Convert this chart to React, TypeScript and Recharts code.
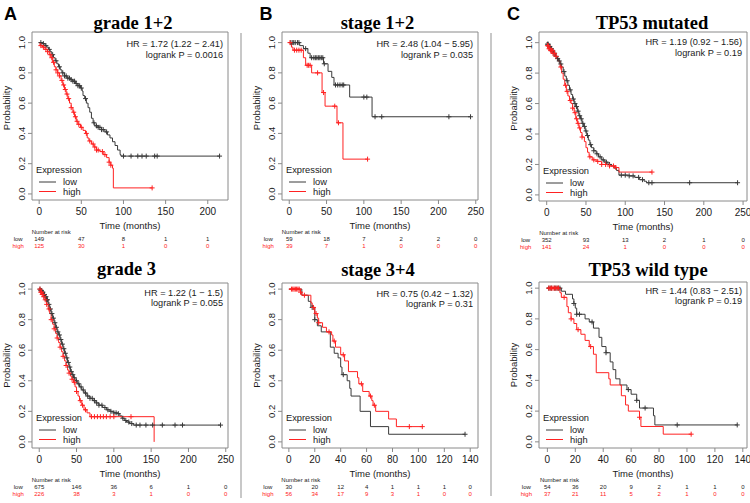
import React from 'react';
import { ComposedChart, Line, Scatter, XAxis, YAxis, ReferenceArea } from 'recharts';

type Pt = [number, number];

// ---------- data ----------
const ticks200 = [0, 50, 100, 150, 200];
const ticks250 = [0, 50, 100, 150, 200, 250];
const ticks140 = [0, 20, 40, 60, 80, 100, 120, 140];
const yTicks = [0, 0.2, 0.4, 0.6, 0.8, 1];

const titles = ['grade 1+2', 'stage 1+2', 'TP53 mutated', 'grade 3', 'stage 3+4', 'TP53 wild type'];
const hrText = [
  'HR = 1.72 (1.22 − 2.41)',
  'HR = 2.48 (1.04 − 5.95)',
  'HR = 1.19 (0.92 − 1.56)',
  'HR = 1.22 (1 − 1.5)',
  'HR = 0.75 (0.42 − 1.32)',
  'HR = 1.44 (0.83 − 2.51)',
];
const pText = ['logrank P = 0.0016', 'logrank P = 0.035', 'logrank P = 0.19', 'logrank P = 0.055', 'logrank P = 0.31', 'logrank P = 0.19'];

// grade 1+2
const g12Low: Pt[] = [[0, 1], [4, 0.993], [7, 0.98], [9, 0.97], [11, 0.955], [13, 0.94], [15, 0.92], [17, 0.9], [19, 0.88], [21, 0.86], [23, 0.84], [25, 0.82], [27, 0.8], [30, 0.78], [33, 0.765], [37, 0.755], [40, 0.745], [43, 0.73], [46, 0.715], [49, 0.7], [51, 0.68], [52, 0.65], [54, 0.63], [56, 0.6], [58, 0.57], [60, 0.54], [62, 0.5], [64, 0.47], [66, 0.45], [70, 0.44], [74, 0.425], [78, 0.41], [81, 0.39], [84, 0.37], [87, 0.345], [90, 0.32], [93, 0.29], [96, 0.26], [97, 0.25], [214, 0.25]];
const g12LowCens = [2, 5, 8, 12, 16, 20, 24, 28, 30, 32, 34, 36, 38, 40, 42, 44, 46, 48, 50, 55, 65, 68, 70, 72, 74, 76, 80, 100, 109, 117, 122, 127, 137, 140, 214];
const g12High: Pt[] = [[0, 1], [1, 0.98], [4, 0.97], [7, 0.955], [10, 0.94], [12, 0.92], [14, 0.9], [16, 0.87], [18, 0.84], [20, 0.82], [22, 0.8], [24, 0.78], [26, 0.75], [28, 0.72], [30, 0.69], [32, 0.66], [34, 0.63], [36, 0.6], [38, 0.57], [40, 0.54], [42, 0.51], [44, 0.48], [46, 0.46], [49, 0.44], [52, 0.42], [55, 0.4], [57, 0.37], [59, 0.35], [62, 0.33], [65, 0.31], [68, 0.29], [72, 0.28], [76, 0.26], [80, 0.24], [83, 0.21], [85, 0.19], [87, 0.17], [88, 0.04], [134, 0.04]];
const g12HighCens = [2, 5, 8, 10, 13, 15, 17, 20, 22, 24, 27, 29, 31, 33, 35, 38, 41, 43, 45, 47, 50, 56, 60, 64, 66, 68, 70, 75, 78, 83, 85, 134];
const g12RiskLow = [149, 47, 8, 1, 1];
const g12RiskHigh = [125, 30, 1, 0, 0];

// stage 1+2
const s12Low: Pt[] = [[0, 1], [14, 0.98], [19, 0.96], [25, 0.93], [28, 0.9], [46, 0.86], [52, 0.81], [57, 0.77], [60, 0.72], [81, 0.64], [111, 0.51], [243, 0.51]];
const s12LowCens = [2, 4, 6, 8, 11, 13, 22, 30, 33, 35, 37, 39, 41, 43, 45, 47, 62, 65, 68, 71, 73, 100, 104, 115, 124, 214, 243];
const s12High: Pt[] = [[0, 1], [3, 0.97], [5, 0.95], [19, 0.9], [22, 0.85], [30, 0.8], [44, 0.67], [48, 0.58], [64, 0.47], [72, 0.23], [105, 0.23]];
const s12HighCens = [1, 7, 10, 13, 16, 24, 26, 28, 38, 46, 61, 66, 105];
const s12RiskLow = [59, 18, 7, 2, 2, 0];
const s12RiskHigh = [39, 7, 1, 0, 0, 0];

// TP53 mutated
const tpmLow: Pt[] = [[0, 1], [1, 0.99], [3, 0.975], [5, 0.96], [7, 0.945], [9, 0.93], [11, 0.91], [13, 0.895], [15, 0.88], [17, 0.86], [19, 0.84], [21, 0.81], [23, 0.78], [25, 0.75], [27, 0.72], [29, 0.69], [31, 0.66], [33, 0.63], [35, 0.6], [37, 0.58], [39, 0.55], [41, 0.52], [43, 0.5], [45, 0.47], [47, 0.45], [49, 0.42], [51, 0.39], [53, 0.36], [55, 0.33], [57, 0.31], [60, 0.29], [63, 0.27], [66, 0.25], [70, 0.23], [74, 0.215], [78, 0.2], [82, 0.19], [86, 0.175], [89, 0.16], [92, 0.13], [105, 0.125], [112, 0.115], [118, 0.1], [124, 0.09], [127, 0.08], [243, 0.08]];
const tpmLowCens = [1, 2, 3, 4, 5, 6, 7, 8, 9, 10, 12, 14, 16, 18, 22, 26, 30, 34, 36, 38, 40, 42, 44, 46, 48, 50, 52, 56, 60, 64, 68, 72, 76, 80, 95, 100, 105, 110, 117, 122, 130, 134, 182, 243];
const tpmHigh: Pt[] = [[0, 1], [1, 0.98], [3, 0.96], [5, 0.95], [8, 0.93], [11, 0.91], [14, 0.88], [17, 0.84], [19, 0.8], [21, 0.76], [23, 0.72], [25, 0.68], [27, 0.65], [29, 0.62], [31, 0.6], [33, 0.57], [35, 0.54], [37, 0.5], [39, 0.47], [41, 0.44], [43, 0.41], [45, 0.38], [48, 0.35], [50, 0.31], [52, 0.28], [54, 0.25], [58, 0.23], [64, 0.22], [70, 0.2], [80, 0.19], [88, 0.18], [92, 0.15], [134, 0.15]];
const tpmHighCens = [1, 2, 3, 4, 5, 6, 7, 8, 10, 12, 18, 24, 26, 30, 33, 36, 38, 40, 42, 45, 55, 60, 65, 70, 75, 80, 85, 88, 134];
const tpmRiskLow = [352, 93, 13, 2, 1, 0];
const tpmRiskHigh = [141, 24, 1, 0, 0, 0];

// grade 3
const g3Low: Pt[] = [[0, 1], [2, 0.99], [4, 0.98], [6, 0.965], [8, 0.95], [10, 0.93], [12, 0.9], [14, 0.87], [16, 0.84], [18, 0.81], [20, 0.78], [22, 0.75], [24, 0.72], [26, 0.7], [28, 0.67], [30, 0.64], [32, 0.61], [34, 0.58], [36, 0.55], [38, 0.52], [40, 0.49], [42, 0.46], [44, 0.44], [46, 0.42], [48, 0.4], [51, 0.38], [54, 0.36], [57, 0.34], [60, 0.32], [64, 0.3], [68, 0.285], [72, 0.27], [76, 0.255], [80, 0.24], [85, 0.225], [90, 0.21], [95, 0.2], [100, 0.19], [105, 0.185], [108, 0.17], [111, 0.155], [114, 0.14], [117, 0.13], [121, 0.12], [126, 0.11], [243, 0.11]];
const g3LowCens = [1, 2, 3, 4, 5, 6, 7, 8, 9, 10, 11, 13, 15, 17, 19, 21, 23, 25, 27, 29, 31, 33, 35, 37, 39, 41, 43, 45, 47, 50, 53, 56, 59, 62, 65, 68, 71, 74, 77, 80, 84, 88, 92, 96, 100, 103, 106, 112, 116, 120, 124, 130, 135, 143, 152, 165, 182, 192, 243];
const g3High: Pt[] = [[0, 1], [2, 0.98], [4, 0.965], [6, 0.95], [8, 0.93], [10, 0.9], [12, 0.87], [14, 0.84], [16, 0.8], [18, 0.77], [20, 0.74], [22, 0.71], [24, 0.68], [26, 0.65], [28, 0.62], [30, 0.59], [32, 0.56], [34, 0.53], [36, 0.5], [38, 0.47], [40, 0.45], [42, 0.43], [44, 0.41], [46, 0.39], [48, 0.36], [50, 0.33], [52, 0.3], [54, 0.27], [57, 0.24], [60, 0.21], [64, 0.19], [68, 0.165], [154, 0]];
const g3HighCens = [1, 2, 3, 4, 5, 6, 8, 10, 13, 16, 20, 24, 28, 32, 36, 40, 44, 47, 50, 55, 58, 62, 70, 74, 78, 82, 86, 90, 95, 100, 123];
const g3RiskLow = [675, 146, 36, 6, 1, 0];
const g3RiskHigh = [226, 38, 3, 1, 0, 0];

// stage 3+4
const s34Low: Pt[] = [[0, 1], [10, 0.96], [15, 0.92], [17, 0.88], [20, 0.8], [22, 0.76], [25, 0.72], [32, 0.62], [35, 0.58], [38, 0.55], [40, 0.49], [41, 0.44], [45, 0.4], [47, 0.35], [48, 0.3], [55, 0.2], [63, 0.1], [77, 0.05], [136, 0.05]];
const s34LowCens = [18, 20, 42, 136];
const s34High: Pt[] = [[0, 1], [9, 0.98], [10, 0.96], [17, 0.91], [18, 0.88], [20, 0.84], [22, 0.81], [23, 0.78], [26, 0.75], [29, 0.72], [33, 0.7], [34, 0.66], [36, 0.62], [40, 0.57], [43, 0.53], [46, 0.46], [53, 0.42], [54, 0.38], [57, 0.33], [62, 0.3], [64, 0.27], [65, 0.24], [67, 0.2], [77, 0.15], [83, 0.1], [103, 0.1]];
const s34HighCens = [2, 3, 4, 5, 6, 7, 8, 9, 12, 19, 21, 23, 31, 35, 42, 56, 63, 66, 93, 103];
const s34RiskLow = [30, 20, 12, 4, 1, 1, 1, 0];
const s34RiskHigh = [56, 34, 17, 9, 3, 1, 0, 0];

// TP53 wild type
const tpwLow: Pt[] = [[0, 1], [10, 0.98], [13, 0.96], [18, 0.93], [19, 0.9], [20, 0.87], [21, 0.83], [27, 0.8], [30, 0.78], [33, 0.74], [37, 0.68], [39, 0.62], [42, 0.58], [45, 0.52], [47, 0.47], [49, 0.41], [52, 0.37], [57, 0.34], [60, 0.31], [64, 0.27], [66, 0.22], [76, 0.17], [77, 0.11], [136, 0.11]];
const tpwLowCens = [1, 2, 3, 5, 6, 7, 8, 9, 19, 21, 23, 32, 42, 58, 64, 70, 93, 136];
const tpwHigh: Pt[] = [[0, 1], [9, 0.97], [10, 0.94], [14, 0.88], [15, 0.84], [17, 0.8], [19, 0.77], [21, 0.73], [24, 0.7], [27, 0.66], [30, 0.62], [33, 0.57], [35, 0.45], [44, 0.41], [45, 0.37], [53, 0.3], [56, 0.24], [58, 0.2], [66, 0.16], [67, 0.1], [83, 0.05], [103, 0.05]];
const tpwHighCens = [1, 2, 3, 4, 5, 6, 7, 8, 12, 17, 22, 31, 66, 103];
const tpwRiskLow = [54, 36, 20, 9, 2, 1, 1, 0];
const tpwRiskHigh = [37, 21, 11, 5, 2, 1, 0, 0];

// ---------- styling ----------
const LOW = '#3a3a3a';
const HIGH = '#f22';
const BOX = '#8a8a8a';
const TXT = '#1a1a1a';
const SANS = '"Liberation Sans", Arial, sans-serif';

const rows = (pts: Pt[]) => pts.map(([t, s]) => ({ t, s }));
const survAt = (pts: Pt[], t: number) => {
  let s = pts[0][1];
  for (const [pt, ps] of pts) {
    if (pt <= t) s = ps;
    else break;
  }
  return s;
};
const censRows = (pts: Pt[], times: number[]) => times.map((t) => ({ t, s: survAt(pts, t) }));

const plus = (color: string) => (props: any) => {
  const { cx, cy } = props;
  return <path d={`M${cx - 2.5},${cy}H${cx + 2.5}M${cx},${cy - 2.5}V${cy + 2.5}`} stroke={color} strokeWidth={1} fill="none" />;
};

type Panel = {
  i: number;
  left: number;
  boxL: number; boxR: number; boxT: number; boxB: number;
  xDom: [number, number];
  yDom: [number, number];
  xTicks: number[];
  low: Pt[]; high: Pt[];
  lowC: number[]; highC: number[];
  riskLow: number[]; riskHigh: number[];
  titleX: number; titleY: number;
  hrY: number; pY: number;
  probDy: number;
};

const panels: Panel[] = [
  { i: 0, left: 0, boxL: 32, boxR: 228, boxT: 32, boxB: 200, xDom: [-8.5, 224], yDom: [-0.04, 1.07], xTicks: ticks200, low: g12Low, high: g12High, lowC: g12LowCens, highC: g12HighCens, riskLow: g12RiskLow, riskHigh: g12RiskHigh, titleX: 133, titleY: 29, hrY: 46.5, pY: 58, probDy: -8 },
  { i: 1, left: 250, boxL: 282, boxR: 478, boxT: 32, boxB: 200, xDom: [-9.7, 253], yDom: [-0.04, 1.07], xTicks: ticks250, low: s12Low, high: s12High, lowC: s12LowCens, highC: s12HighCens, riskLow: s12RiskLow, riskHigh: s12RiskHigh, titleX: 377.5, titleY: 29, hrY: 46.5, pY: 58, probDy: -8 },
  { i: 2, left: 500, boxL: 539, boxR: 747, boxT: 32, boxB: 201, xDom: [-9.8, 255], yDom: [-0.04, 1.07], xTicks: ticks250, low: tpmLow, high: tpmHigh, lowC: tpmLowCens, highC: tpmHighCens, riskLow: tpmRiskLow, riskHigh: tpmRiskHigh, titleX: 652, titleY: 29, hrY: 45, pY: 56, probDy: -8 },
  { i: 3, left: 0, boxL: 32, boxR: 228, boxT: 283, boxB: 448, xDom: [-9.7, 253], yDom: [-0.04, 1.04], xTicks: ticks250, low: g3Low, high: g3High, lowC: g3LowCens, highC: g3HighCens, riskLow: g3RiskLow, riskHigh: g3RiskHigh, titleX: 126.5, titleY: 275, hrY: 296, pY: 306, probDy: 0 },
  { i: 4, left: 250, boxL: 282, boxR: 478, boxT: 283, boxB: 448, xDom: [-5.3, 146], yDom: [-0.04, 1.04], xTicks: ticks140, low: s34Low, high: s34High, lowC: s34LowCens, highC: s34HighCens, riskLow: s34RiskLow, riskHigh: s34RiskHigh, titleX: 378, titleY: 276, hrY: 296.5, pY: 306.5, probDy: 0 },
  { i: 5, left: 500, boxL: 539, boxR: 747, boxT: 282, boxB: 448, xDom: [-6, 143], yDom: [-0.04, 1.04], xTicks: ticks140, low: tpwLow, high: tpwHigh, lowC: tpwLowCens, highC: tpwHighCens, riskLow: tpwRiskLow, riskHigh: tpwRiskHigh, titleX: 648, titleY: 276, hrY: 294, pY: 304, probDy: 0 },
];

const YTick = (props: any) => {
  const { x, y, payload } = props;
  const tx = x - 3;
  return (
    <text x={tx} y={y} transform={`rotate(-90 ${tx} ${y})`} textAnchor="middle" fontSize={9.5} fill={TXT} fontFamily={SANS}>
      {Number(payload.value).toFixed(1)}
    </text>
  );
};

// x tick label plus the "number at risk" column under that tick
const xTick = (p: Panel) => (props: any) => {
  const { x, y, payload } = props;
  const i = p.xTicks.indexOf(payload.value);
  return (
    <g fontFamily={SANS}>
      <text x={x} y={y + 7.6} textAnchor="middle" fontSize={10} fill={TXT}>{payload.value}</text>
      {i === 0 && (
        <g fontSize={6}>
          <text x={x - 7.5} y={y + 26.6} fill={TXT}>Number at risk</text>
          <text x={x - 21} y={y + 34} textAnchor="middle" fill={TXT}>low</text>
          <text x={x - 21} y={y + 41} textAnchor="middle" fill={HIGH}>high</text>
        </g>
      )}
      <text x={x} y={y + 34} textAnchor="middle" fontSize={6} fill={TXT}>{p.riskLow[i]}</text>
      <text x={x} y={y + 41} textAnchor="middle" fontSize={6} fill={HIGH}>{p.riskHigh[i]}</text>
    </g>
  );
};

function KMPanel({ p }: { p: Panel }) {
  const top = p.boxT - 4;
  const right = Math.min(12, 750 - p.boxR);
  const width = p.boxR + right - p.left;
  const yAxisW = p.boxL - p.left;
  const height = p.boxB - top + 52;
  return (
    <div style={{ position: 'absolute', left: p.left, top }}>
      <ComposedChart width={width} height={height} margin={{ top: 4, right, left: 0, bottom: 0 }}>
        <XAxis
          dataKey="t"
          type="number"
          domain={p.xDom}
          ticks={p.xTicks}
          allowDataOverflow
          interval={0}
          axisLine={false}
          tickLine={{ stroke: BOX }}
          tickSize={4}
          tickMargin={3}
          height={52}
          tick={xTick(p)}
          label={(lp: any) => {
            const vb = lp.viewBox;
            return (
              <text x={vb.x + vb.width / 2} y={vb.y + 28.5} textAnchor="middle" fontSize={9.5} fill={TXT} fontFamily={SANS}>
                Time (months)
              </text>
            );
          }}
        />
        <YAxis
          dataKey="s"
          type="number"
          domain={p.yDom}
          ticks={yTicks}
          allowDataOverflow
          interval={0}
          width={yAxisW}
          axisLine={false}
          tickLine={{ stroke: BOX }}
          tickSize={4}
          tickMargin={0}
          tick={<YTick />}
          label={(lp: any) => {
            const vb = lp.viewBox;
            const lx = vb.x + vb.width - 22;
            const ly = vb.y + vb.height / 2 + p.probDy;
            return (
              <text x={lx} y={ly} transform={`rotate(-90 ${lx} ${ly})`} textAnchor="middle" fontSize={9.5} fill={TXT} fontFamily={SANS}>
                Probability
              </text>
            );
          }}
        />
        <ReferenceArea x1={p.xDom[0]} x2={p.xDom[1]} y1={p.yDom[0]} y2={p.yDom[1]} fill="none" stroke={BOX} strokeWidth={1} />
        <Line data={rows(p.low)} dataKey="s" type="stepAfter" stroke={LOW} strokeWidth={1} dot={false} activeDot={false} isAnimationActive={false} />
        <Line data={rows(p.high)} dataKey="s" type="stepAfter" stroke={HIGH} strokeWidth={1} dot={false} activeDot={false} isAnimationActive={false} />
        <Scatter data={censRows(p.low, p.lowC)} dataKey="s" shape={plus(LOW)} isAnimationActive={false} />
        <Scatter data={censRows(p.high, p.highC)} dataKey="s" shape={plus(HIGH)} isAnimationActive={false} />
      </ComposedChart>
    </div>
  );
}

function Overlay() {
  return (
    <svg width={750} height={503} style={{ position: 'absolute', left: 0, top: 0, pointerEvents: 'none' }}>
      <rect x={240} y={33} width={2} height={465} fill="#c8c8c8" />
      <rect x={490} y={33} width={2} height={463} fill="#c8c8c8" />
      <g fontFamily={SANS} fontWeight="bold" fontSize={18} fill="#000">
        <text x={4} y={20}>A</text>
        <text x={259.5} y={20}>B</text>
        <text x={507} y={20}>C</text>
      </g>
      {panels.map((p) => (
        <g key={p.i}>
          <text x={p.titleX} y={p.titleY} textAnchor="middle" fontFamily='"Liberation Serif", serif' fontWeight="bold" fontSize={18.5} fill="#000">
            {titles[p.i]}
          </text>
          <g fontFamily={SANS} fontSize={9.2} fill={TXT} textAnchor="end">
            <text x={p.boxR - 5} y={p.hrY}>{hrText[p.i]}</text>
            <text x={p.boxR - 5} y={p.pY}>{pText[p.i]}</text>
          </g>
          <g fontFamily={SANS} fontSize={9.3} fill={TXT}>
            <text x={p.boxL + 4} y={p.boxB - 27.2}>Expression</text>
            <line x1={p.boxL + 7} x2={p.boxL + 24} y1={p.boxB - 18} y2={p.boxB - 18} stroke={LOW} />
            <line x1={p.boxL + 7} x2={p.boxL + 24} y1={p.boxB - 8.5} y2={p.boxB - 8.5} stroke={HIGH} />
            <text x={p.boxL + 31} y={p.boxB - 14.7}>low</text>
            <text x={p.boxL + 31} y={p.boxB - 5.2}>high</text>
          </g>
        </g>
      ))}
    </svg>
  );
}

export default function App() {
  return (
    <div style={{ position: 'absolute', left: 0, top: 0, width: 750, height: 503, background: '#fff', overflow: 'hidden' }}>
      {panels.map((p) => (
        <KMPanel key={p.i} p={p} />
      ))}
      <Overlay />
    </div>
  );
}
